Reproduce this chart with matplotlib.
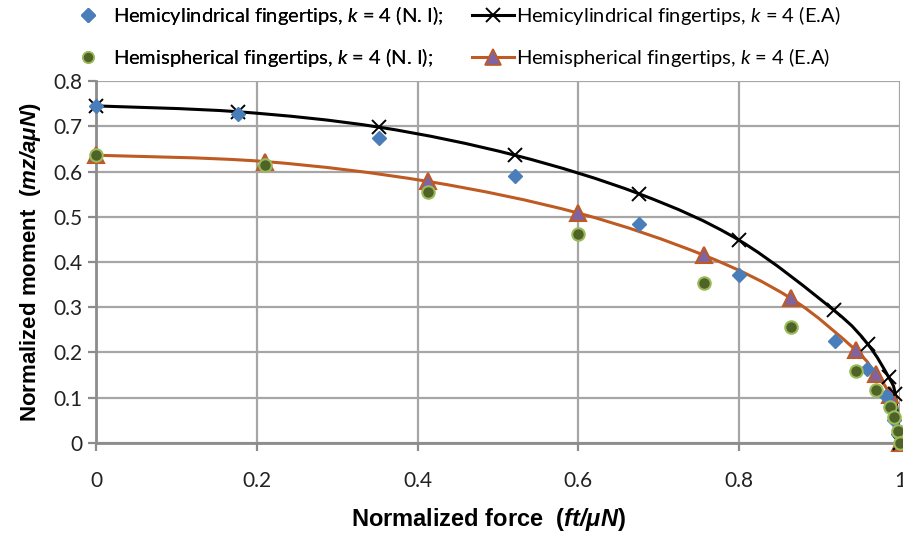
import numpy as np
import matplotlib
matplotlib.use("Agg")
import matplotlib.pyplot as plt
from matplotlib.path import Path
from matplotlib.patches import PathPatch
from matplotlib.lines import Line2D

# hemicylindrical fingertips, numerical integration
cyl_ni_x = [0.0, 0.177, 0.352, 0.521, 0.675, 0.80, 0.919, 0.959, 0.983, 0.992, 0.998]
cyl_ni_y = [0.745, 0.728, 0.675, 0.590, 0.484, 0.371, 0.226, 0.163, 0.103, 0.050, 0.020]

# hemicylindrical fingertips, ellipse approximation
cyl_ea_x = [0.0, 0.177, 0.352, 0.521, 0.675, 0.80, 0.918, 0.960, 0.986, 0.994, 1.0]
cyl_ea_y = [0.745, 0.732, 0.698, 0.636, 0.551, 0.448, 0.293, 0.218, 0.145, 0.108, 0.0]

# hemispherical fingertips, numerical integration
sph_ni_x = [0.0, 0.21, 0.413, 0.60, 0.756, 0.864, 0.945, 0.970, 0.987, 0.993, 0.997, 1.0]
sph_ni_y = [0.636, 0.615, 0.555, 0.462, 0.353, 0.256, 0.159, 0.116, 0.080, 0.058, 0.027, 0.0]

# hemispherical fingertips, ellipse approximation
sph_ea_x = [0.0, 0.21, 0.413, 0.60, 0.756, 0.864, 0.945, 0.970, 0.987, 1.0]
sph_ea_y = [0.636, 0.622, 0.578, 0.508, 0.415, 0.320, 0.205, 0.152, 0.105, 0.0]

x_ticks = [0, 0.2, 0.4, 0.6, 0.8, 1]
y_ticks = [0, 0.1, 0.2, 0.3, 0.4, 0.5, 0.6, 0.7, 0.8]

BLUE = "#4A7EBB"
DARK_GREEN = "#4F6228"
LIGHT_GREEN = "#9BBB59"
PURPLE = "#8064A2"
BROWN = "#BE5A22"
GRID = "#A6A6A6"


def smooth_path(xs, ys):
    """Cubic Bezier path through the points, like a smoothed Excel line."""
    pts = np.column_stack([xs, ys])
    n = len(pts)
    verts = [pts[0]]
    codes = [Path.MOVETO]
    for i in range(n - 1):
        p0 = pts[i - 1] if i > 0 else pts[i]
        p1 = pts[i]
        p2 = pts[i + 1]
        p3 = pts[i + 2] if i + 2 < n else pts[i + 1]
        c1 = p1 + (p2 - p0) / 6.0
        c2 = p2 - (p3 - p1) / 6.0
        verts += [c1, c2, p2]
        codes += [Path.CURVE4] * 3
    return Path(verts, codes)


plt.rcParams['font.family'] = ['Lato', 'DejaVu Sans']
# \mathbf gives the bold italic units in the axis titles
plt.rcParams['mathtext.fontset'] = 'custom'
plt.rcParams['mathtext.bf'] = 'Liberation Sans:italic:bold'
plt.rcParams['mathtext.it'] = 'Lato:italic:regular'
plt.rcParams['mathtext.rm'] = 'Lato:regular'

fig = plt.figure(figsize=(9.04, 5.33), dpi=100)
ax = fig.add_axes([0.1062, 0.1689, 0.8894, 0.6791])

ax.add_patch(PathPatch(smooth_path(cyl_ea_x, cyl_ea_y), facecolor="none",
                       edgecolor="black", lw=2.2, zorder=3, clip_on=False))
ax.add_patch(PathPatch(smooth_path(sph_ea_x, sph_ea_y), facecolor="none",
                       edgecolor=BROWN, lw=2.2, zorder=3, clip_on=False))

ax.plot(sph_ea_x, sph_ea_y, ls="none", marker="^", ms=11, mfc=PURPLE,
        mec=BROWN, mew=1.5, zorder=4, clip_on=False)
ax.plot(cyl_ea_x, cyl_ea_y, ls="none", marker="x", ms=10, color="black",
        mew=1.4, zorder=5, clip_on=False)
ax.plot(cyl_ni_x, cyl_ni_y, ls="none", marker="D", ms=7, mfc=BLUE,
        mec=BLUE, zorder=6, clip_on=False)
ax.plot(sph_ni_x, sph_ni_y, ls="none", marker="o", ms=9, mfc=DARK_GREEN,
        mec=LIGHT_GREEN, mew=1.5, zorder=6, clip_on=False)

ax.set_xlim(0, 1)
ax.set_ylim(0, 0.8)
ax.set_xticks(x_ticks)
ax.set_xticklabels(["0", "0.2", "0.4", "0.6", "0.8", "1"])
ax.set_yticks(y_ticks)
ax.set_yticklabels(["0", "0.1", "0.2", "0.3", "0.4", "0.5", "0.6", "0.7", "0.8"])
ax.grid(True, color=GRID, lw=1.6)
ax.set_axisbelow(True)
for side in ["top", "right"]:
    ax.spines[side].set_visible(False)
for side in ["left", "bottom"]:
    ax.spines[side].set_color("#8C8C8C")
    ax.spines[side].set_linewidth(2.0)
ax.tick_params(axis="both", colors="#8C8C8C", width=1.6, length=6,
               labelsize=15, labelcolor="#222222")
ax.tick_params(axis="x", pad=14)

ax.set_xlabel(r"Normalized force  ($\mathbf{ft/\mu N}$)", fontsize=17,
              fontweight="bold", family="Liberation Sans")
ax.xaxis.set_label_coords(0.4876, -0.175)
ax.set_ylabel(r"Normalized moment  ($\mathbf{mz/a\mu N}$)", fontsize=16,
              fontweight="bold", family="Liberation Sans", labelpad=8)

h_cyl_ni = Line2D([], [], ls="none", marker="D", ms=7, mfc=BLUE, mec=BLUE)
h_sph_ni = Line2D([], [], ls="none", marker="o", ms=8, mfc=DARK_GREEN,
                  mec=LIGHT_GREEN, mew=1.2)
h_cyl_ea = Line2D([], [], color="black", lw=2.2, marker="x", ms=10, mew=1.4)
h_sph_ea = Line2D([], [], color=BROWN, lw=2.2, marker="^", ms=11,
                  mfc=PURPLE, mec=BROWN, mew=1.2)

leg_font = {"family": "Lato", "weight": "regular", "size": 14.5}
leg1 = fig.legend([h_cyl_ni, h_sph_ni],
                  [r"Hemicylindrical fingertips, $\it{k}$ = 4 (N. I);",
                   r"Hemispherical fingertips, $\it{k}$ = 4 (N. I);"],
                  loc="upper left", bbox_to_anchor=(0.0865, 0.9925),
                  frameon=False, prop=leg_font, handlelength=1.0,
                  handletextpad=0.72, labelspacing=0.95, borderpad=0,
                  borderaxespad=0)
fig.add_artist(leg1)
fig.legend([h_cyl_ea, h_sph_ea],
           [r"Hemicylindrical fingertips, $\it{k}$ = 4 (E.A)",
            r"Hemispherical fingertips, $\it{k}$ = 4 (E.A)"],
           loc="upper left", bbox_to_anchor=(0.522, 0.9925), frameon=False,
           prop=leg_font, handlelength=2.1, handletextpad=0.1,
           labelspacing=0.95, borderpad=0, borderaxespad=0)

fig.savefig("out.png", dpi=100)
